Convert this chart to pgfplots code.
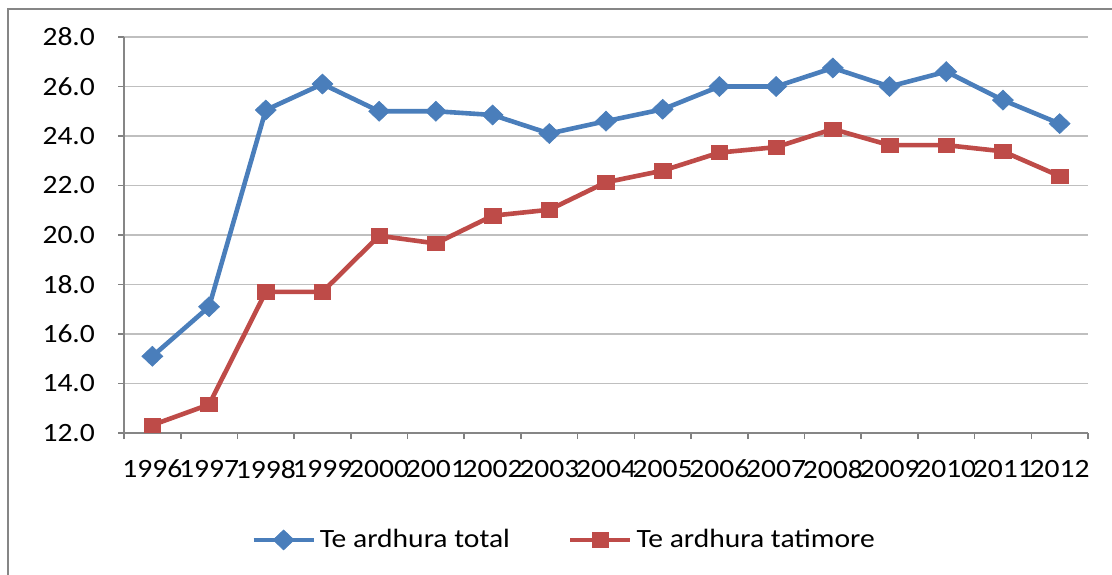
\documentclass[border=0pt]{standalone}
\usepackage{pgfplots}
\pgfplotsset{compat=1.18}
\usepackage{fontspec}
\setmainfont{Carlito}[FakeStretch=1.12]
\definecolor{sblue}{HTML}{4A7EBB}
\definecolor{sred}{HTML}{BE4B48}
\definecolor{grid}{HTML}{868686}
\begin{document}
\begin{tikzpicture}[x=1pt,y=1pt]
\useasboundingbox (-62,-70.5) rectangle (494,216.5);
\draw[grid, line width=1.2pt] (-58,-75) -- (-58,212) -- (500,212);
\begin{axis}[
  at={(0,0)}, anchor=south west,
  scale only axis, width=482pt, height=198pt,
  xmin=-0.5, xmax=16.5, ymin=12, ymax=28,
  xtick={-0.5,0.5,...,16.5},
  xticklabels={},
  extra x ticks={0,...,16},
  extra x tick labels={1996,1997,1998,1999,2000,2001,2002,2003,2004,2005,2006,2007,2008,2009,2010,2011,2012},
  extra x tick style={major tick length=0pt, grid=none, xticklabel style={yshift=-10pt}},
  ytick={12,14,...,28},
  tick align=outside,
  major tick length=3pt,
  tick style={grid, line width=0.8pt},
  ymajorgrids, xmajorgrids=false,
  major grid style={grid, line width=0.8pt},
  axis x line*=bottom, axis y line*=left,
  axis line style={grid, line width=0.8pt, -},
  yticklabel style={/pgf/number format/fixed, /pgf/number format/fixed zerofill, /pgf/number format/precision=1, /pgf/number format/assume math mode=true, xshift=-8pt},
  ticklabel style={font=\fontsize{13.2}{15}\selectfont, text=black},
  legend style={at={(0.4575,-0.27)}, anchor=center, draw=none, fill=none,
    font=\fontsize{13.2}{15}\selectfont, legend columns=2,
    /tikz/every even column/.append style={column sep=27pt},
    inner sep=0pt},
  legend cell align=left,
  legend image code/.code={\draw[mark repeat=2,mark phase=2] plot coordinates {(0pt,0pt) (15pt,0pt) (30pt,0pt)};},
]
\addplot[sblue, line width=2.3pt, mark=diamond*, mark size=5pt, mark options={xscale=1.4, solid, fill=sblue, draw=sblue, line width=0.3pt}]
coordinates {(0,15.1) (1,17.1) (2,25.05) (3,26.1) (4,25.0) (5,25.0) (6,24.85) (7,24.1) (8,24.6) (9,25.08) (10,26.0) (11,26.0) (12,26.75) (13,26.0) (14,26.6) (15,25.45) (16,24.5)};
\addlegendentry{Te ardhura total}
\addplot[sred, line width=2.3pt, mark=square*, mark size=3.6pt, mark options={xscale=1.15, solid, fill=sred, draw=sred, line width=0.3pt}]
coordinates {(0,12.32) (1,13.15) (2,17.7) (3,17.7) (4,19.97) (5,19.66) (6,20.78) (7,21.02) (8,22.13) (9,22.6) (10,23.33) (11,23.55) (12,24.28) (13,23.63) (14,23.63) (15,23.38) (16,22.38)};
\addlegendentry{Te ardhura tatimore}
\end{axis}
\end{tikzpicture}
\end{document}
